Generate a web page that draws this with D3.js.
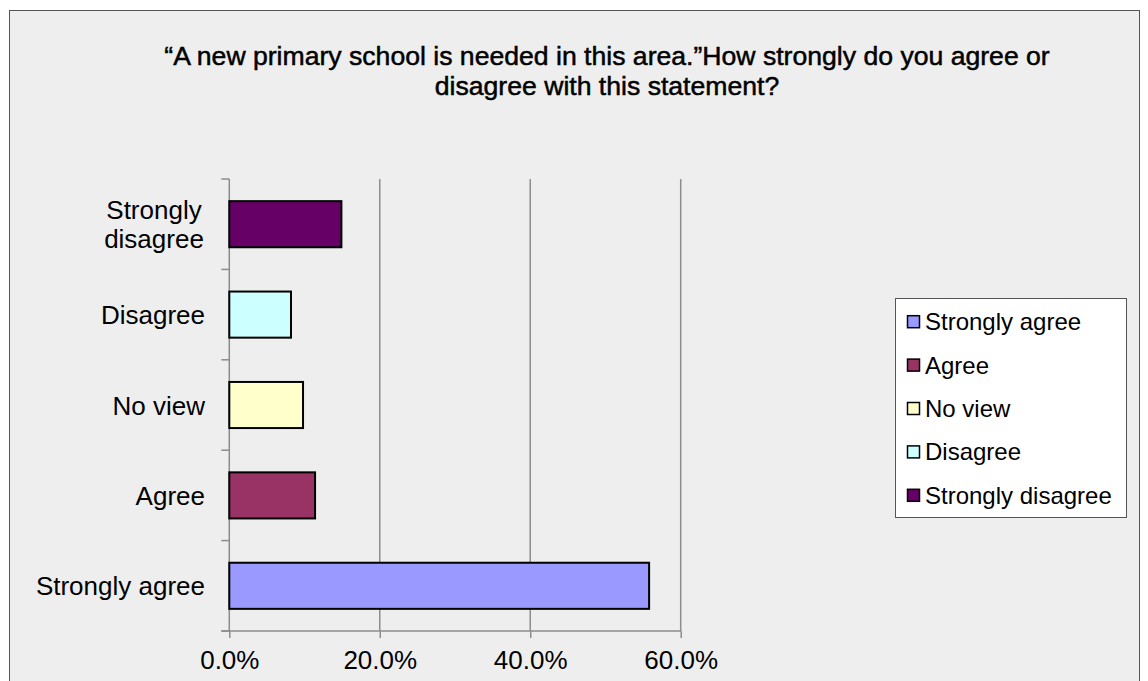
<!DOCTYPE html>
<html><head><meta charset="utf-8">
<script src="https://cdn.jsdelivr.net/npm/d3@7"></script>
<style>
html,body{margin:0;padding:0;background:#fff;}
svg{display:block;font-family:"Liberation Sans",Arial,sans-serif;}
</style></head><body>
<svg id="chart" width="1148" height="681"></svg>
<script>
const categories = ["Strongly agree","Agree","No view","Disagree","Strongly disagree"];
const values = [55.8, 11.4, 9.8, 8.2, 14.9];
const colors = ["#9999ff","#993366","#ffffcc","#ccffff","#660066"];
const xTicks = [0, 20, 40, 60];
const titleLines = ["\u201cA new primary school is needed in this area.\u201dHow strongly do you agree or","disagree with this statement?"];

const svg = d3.select("#chart");
svg.append("rect").attr("x",9.5).attr("y",10.5).attr("width",1130).attr("height",680)
  .attr("fill","#eeeeee").attr("stroke","#555").attr("stroke-width",1);

const L=229.3, R=680.7, T=179, B=631;
const x = d3.scaleLinear().domain([0,60]).range([L,R]);
const y = d3.scaleBand().domain(categories.slice().reverse()).range([T,B]).paddingInner(0.49).paddingOuter(0.245);

// title
const title = svg.append("text").attr("text-anchor","middle").attr("font-size",26.6).attr("fill","#000")
  .attr("stroke","#000").attr("stroke-width",0.5);
titleLines.forEach((t,i)=>title.append("tspan").attr("x",607).attr("y",65+i*30).text(t));

// gridlines
svg.append("g").selectAll("line").data(xTicks.filter(d=>d>0)).join("line")
  .attr("x1",d=>x(d)).attr("x2",d=>x(d)).attr("y1",T).attr("y2",B)
  .attr("stroke","#8c8c8c").attr("stroke-width",1.5);

// x axis
const xAxis = d3.axisBottom(x).tickValues(xTicks).tickSize(7).tickPadding(13).tickFormat(d=>d.toFixed(1)+"%");
const gx = svg.append("g").attr("transform",`translate(0,${B})`).call(xAxis);
gx.select(".domain").remove();
gx.append("line").attr("x1",L-8).attr("x2",R).attr("y1",0).attr("y2",0).attr("stroke","#8c8c8c").attr("stroke-width",1.5);
gx.selectAll(".tick line").attr("stroke","#8c8c8c").attr("stroke-width",1.5);
gx.selectAll(".tick text").attr("font-size",26).attr("fill","#000").attr("font-family","Liberation Sans, Arial, sans-serif");

// y axis
const gy = svg.append("g");
gy.append("line").attr("x1",L).attr("x2",L).attr("y1",T).attr("y2",B).attr("stroke","#8c8c8c").attr("stroke-width",1.5);
const boundaries = d3.range(categories.length+1).map(i=>T+i*(B-T)/categories.length);
gy.selectAll("line.tk").data(boundaries).join("line").attr("class","tk")
  .attr("x1",L-8).attr("x2",L).attr("y1",d=>d).attr("y2",d=>d).attr("stroke","#8c8c8c").attr("stroke-width",1.5);

const labelLines = {"Strongly disagree":["Strongly","disagree"]};
categories.forEach(c=>{
  const cy = y(c)+y.bandwidth()/2;
  const lines = labelLines[c] || [c];
  const multi = lines.length > 1;
  const t = gy.append("text").attr("text-anchor", multi ? "middle" : "end").attr("font-size",26).attr("fill","#000");
  lines.forEach((ln,i)=>{
    t.append("tspan").attr("x", multi ? 154 : 205).attr("y",cy+9.5+(i-(lines.length-1)/2)*29).text(ln);
  });
});

// bars
svg.append("g").selectAll("rect").data(categories).join("rect")
  .attr("x",x(0)).attr("y",d=>y(d)).attr("width",(d,i)=>x(values[i])-x(0)).attr("height",y.bandwidth())
  .attr("fill",(d,i)=>colors[i]).attr("stroke","#000").attr("stroke-width",2);

// legend
const lg = svg.append("g");
lg.append("rect").attr("x",895.5).attr("y",298.5).attr("width",231).attr("height",219)
  .attr("fill","#fff").attr("stroke","#555").attr("stroke-width",1);
categories.forEach((c,i)=>{
  const cy = 321.7 + i*43.4;
  lg.append("rect").attr("x",907.5).attr("y",cy-6).attr("width",12).attr("height",12)
    .attr("fill",colors[i]).attr("stroke","#000").attr("stroke-width",1.5);
  lg.append("text").attr("x",925).attr("y",cy+8.5).attr("font-size",24).attr("fill","#000").text(c);
});
</script>
</body></html>
